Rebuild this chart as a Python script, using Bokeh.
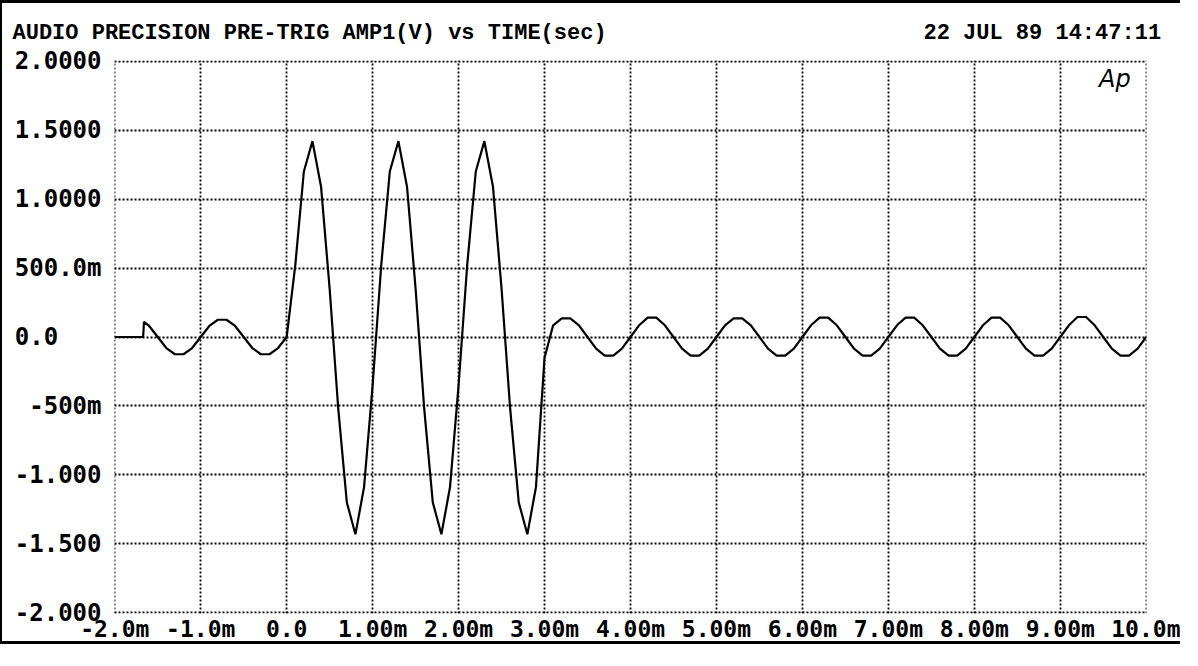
from bokeh.plotting import figure
from bokeh.models import FixedTicker, Label, Range1d
from bokeh.embed import file_html
from bokeh.resources import INLINE

title_text = "AUDIO PRECISION PRE-TRIG AMP1(V) vs TIME(sec)"
date_text = "22 JUL 89 14:47:11"
logo_text = "Ap"

# tick positions (ms / V) and their printed labels
x_ticks = [-2, -1, 0, 1, 2, 3, 4, 5, 6, 7, 8, 9, 10]
x_tick_labels = ["-2.0m", "-1.0m", "0.0", "1.00m", "2.00m", "3.00m", "4.00m",
                 "5.00m", "6.00m", "7.00m", "8.00m", "9.00m", "10.0m"]
NB = "\u00a0"
y_ticks = [2.0, 1.5, 1.0, 0.5, 0.0, -0.5, -1.0, -1.5, -2.0]
y_tick_labels = ["2.0000", "1.5000", "1.0000", "500.0m", "0.0" + NB * 3,
                 NB + "-500m", "-1.000", "-1.500", "-2.000"]

# pre-trigger segment (time in ms, amplitude in V)
pre_t = [-2.0, -1.67, -1.66, -1.6, -1.5, -1.4, -1.3, -1.2, -1.1, -1.0,
         -0.9, -0.8, -0.7, -0.6, -0.5, -0.4, -0.3, -0.2, -0.1, 0.0]
pre_v = [0.0, 0.0, 0.11, 0.08, 0.0, -0.08, -0.125, -0.125, -0.08, 0.0,
         0.08, 0.125, 0.125, 0.08, 0.0, -0.08, -0.125, -0.125, -0.08, 0.0]

# tone burst segment
burst_t = [0.1, 0.2, 0.3, 0.4, 0.5, 0.6, 0.7, 0.8, 0.9, 1.0,
           1.1, 1.2, 1.3, 1.4, 1.5, 1.6, 1.7, 1.8, 1.9, 2.0,
           2.1, 2.2, 2.3, 2.4, 2.5, 2.6, 2.7, 2.8, 2.9, 3.0]
burst_v = [0.52, 1.20, 1.42, 1.09, 0.35, -0.52, -1.20, -1.43, -1.09, -0.35,
           0.52, 1.20, 1.42, 1.09, 0.35, -0.52, -1.20, -1.43, -1.09, -0.35,
           0.52, 1.20, 1.42, 1.09, 0.35, -0.52, -1.20, -1.43, -1.09, -0.15]

# post-burst segment
post_t = [3.1, 3.2, 3.3, 3.4, 3.5, 3.6, 3.7, 3.8, 3.9, 4.0,
          4.1, 4.2, 4.3, 4.4, 4.5, 4.6, 4.7, 4.8, 4.9, 5.0,
          5.1, 5.2, 5.3, 5.4, 5.5, 5.6, 5.7, 5.8, 5.9, 6.0,
          6.1, 6.2, 6.3, 6.4, 6.5, 6.6, 6.7, 6.8, 6.9, 7.0,
          7.1, 7.2, 7.3, 7.4, 7.5, 7.6, 7.7, 7.8, 7.9, 8.0,
          8.1, 8.2, 8.3, 8.4, 8.5, 8.6, 8.7, 8.8, 8.9, 9.0,
          9.1, 9.2, 9.3, 9.4, 9.5, 9.6, 9.7, 9.8, 9.9, 10.0]
post_v = [0.085, 0.135, 0.135, 0.085, 0.0, -0.085, -0.135, -0.135, -0.085, 0.0,
          0.085, 0.14, 0.14, 0.085, 0.0, -0.085, -0.135, -0.135, -0.085, 0.0,
          0.085, 0.135, 0.135, 0.085, 0.0, -0.085, -0.135, -0.135, -0.085, 0.0,
          0.085, 0.14, 0.14, 0.085, 0.0, -0.085, -0.135, -0.135, -0.085, 0.0,
          0.085, 0.14, 0.14, 0.085, 0.0, -0.085, -0.135, -0.135, -0.085, 0.0,
          0.085, 0.14, 0.14, 0.085, 0.0, -0.085, -0.135, -0.135, -0.085, 0.0,
          0.085, 0.145, 0.145, 0.085, 0.0, -0.085, -0.135, -0.135, -0.085, 0.0]

t_all = pre_t + burst_t + post_t
v_all = pre_v + burst_v + post_v

p = figure(width=1180, height=644, output_backend="svg", toolbar_location=None,
           x_range=Range1d(-2.003, 10.003), y_range=Range1d(-2.005, 2.005),
           min_border_left=112, min_border_right=36,
           min_border_top=55, min_border_bottom=34)
p.styles = {"border-left": "2px solid black", "border-top": "3px solid black",
            "border-bottom": "3px solid black"}

p.background_fill_color = "white"
p.border_fill_color = "white"
p.outline_line_color = None

# header line: title at the left, date stamp at the right (fixed-pitch font)
p.title.text = title_text + NB * 24 + date_text
p.title.align = "left"
p.title.offset = -102
p.title.standoff = 30
p.title.text_font = "Liberation Mono"
p.title.text_font_style = "bold"
p.title.text_font_size = "22px"
p.title.text_color = "black"

# axes
for ax in (p.xaxis[0], p.yaxis[0]):
    ax.axis_line_color = None
    ax.major_tick_line_color = None
    ax.minor_tick_line_color = None
    ax.major_tick_out = 0
    ax.major_tick_in = 0
    ax.major_label_text_font = "DejaVu Sans Mono"
    ax.major_label_text_font_style = "bold"
    ax.major_label_text_color = "black"

p.xaxis.major_label_text_font_size = "23px"
p.yaxis.major_label_text_font_size = "24px"
p.xaxis.ticker = FixedTicker(ticks=x_ticks)
p.xaxis.major_label_overrides = dict(zip(x_ticks, x_tick_labels))
p.xaxis.major_label_standoff = 2
p.yaxis.ticker = FixedTicker(ticks=y_ticks)
p.yaxis.major_label_overrides = dict(zip(y_ticks, y_tick_labels))
p.yaxis.major_label_standoff = 13

# dotted grid
p.xgrid.ticker = FixedTicker(ticks=x_ticks)
p.ygrid.ticker = FixedTicker(ticks=y_ticks)
for g in (p.xgrid[0], p.ygrid[0]):
    g.grid_line_color = "black"
    g.grid_line_dash = "2 2"
    g.grid_line_width = 1.8
    g.grid_line_alpha = 1.0

# waveform
p.line(t_all, v_all, line_color="black", line_width=2.2)

# logo
p.add_layout(Label(x=9.45, y=1.97, text=logo_text, text_align="left",
                   text_baseline="top", text_font="DejaVu Sans",
                   text_font_style="italic", text_font_size="24px",
                   text_color="black"))

open("out.html", "w").write(file_html(p, INLINE))
